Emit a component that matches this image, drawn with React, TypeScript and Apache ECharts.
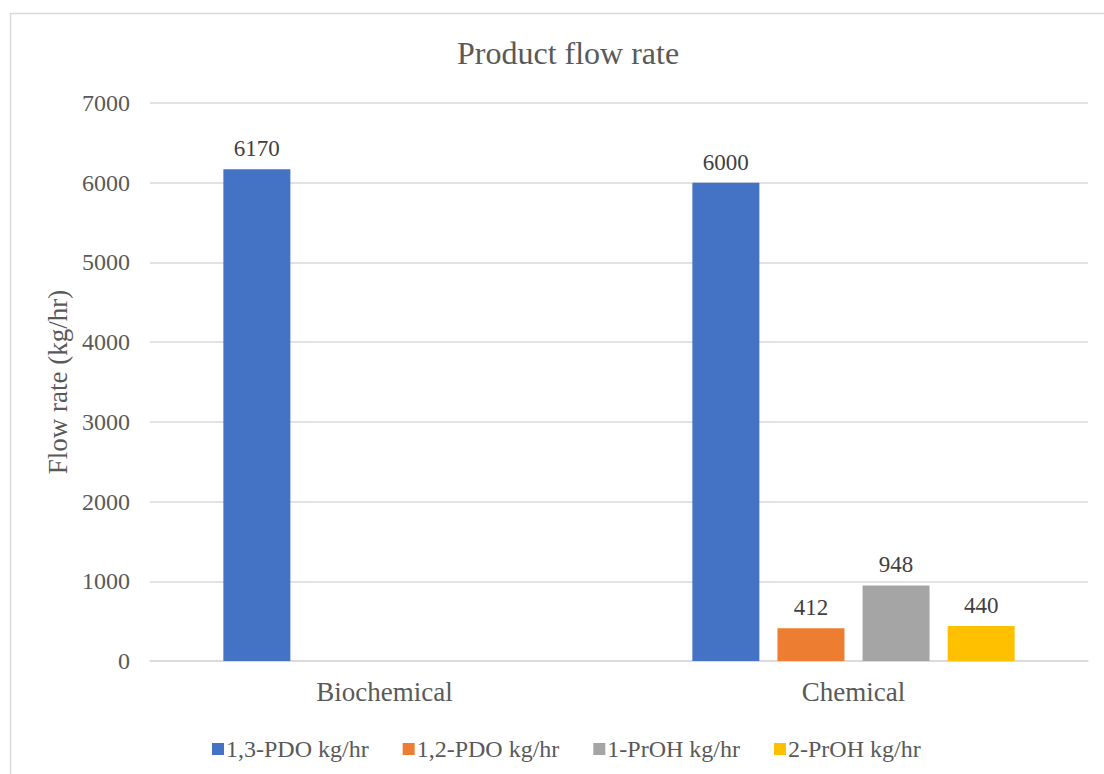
import React, { useEffect, useRef } from "react";
import * as echarts from "echarts";

const categories = ["Biochemical", "Chemical"];
const seriesNames = ["1,3-PDO kg/hr", "1,2-PDO kg/hr", "1-PrOH kg/hr", "2-PrOH kg/hr"];
const pdo13 = [6170, 6000];
const pdo12 = [null, 412];
const prOH1 = [null, 948];
const prOH2 = [null, 440];
const colors = ["#4472C4", "#ED7D31", "#A5A5A5", "#FFC000"];
const yTicks = { min: 0, max: 7000, interval: 1000 };

const FONT = "Liberation Serif";

export default function App() {
  const ref = useRef<HTMLDivElement>(null);
  useEffect(() => {
    if (!ref.current) return;
    const chart = echarts.init(ref.current, null, { renderer: "svg" });
    const data = [pdo13, pdo12, prOH1, prOH2];
    chart.setOption({
      animation: false,
      backgroundColor: "#ffffff",
      textStyle: { fontFamily: FONT },
      graphic: [
        {
          type: "rect",
          shape: { x: 10.5, y: 13.5, width: 1110, height: 800 },
          style: { fill: "none", stroke: "#d9d9d9", lineWidth: 1.5 },
          silent: true,
          z: -1,
        },
      ],
      title: {
        text: "Product flow rate",
        left: 452,
        top: 32,
        textStyle: { fontFamily: FONT, fontSize: 32, fontWeight: "normal", color: "#595959" },
      },
      legend: {
        top: 732,
        left: 207,
        itemWidth: 12,
        itemHeight: 12,
        itemGap: 34,
        icon: "rect",
        textStyle: { fontFamily: FONT, fontSize: 24, color: "#595959", padding: [0, 0, 0, -3] },
        data: seriesNames,
      },
      grid: { left: 150, right: 16, top: 103, bottom: 113, containLabel: false },
      xAxis: {
        type: "category",
        data: categories,
        axisLine: { lineStyle: { color: "#d9d9d9", width: 1.5 } },
        axisTick: { show: false },
        axisLabel: { fontFamily: FONT, fontSize: 27, color: "#595959", margin: 17 },
      },
      yAxis: {
        type: "value",
        min: yTicks.min,
        max: yTicks.max,
        interval: yTicks.interval,
        name: "Flow rate (kg/hr)",
        nameLocation: "middle",
        nameGap: 77,
        nameTextStyle: { fontFamily: FONT, fontSize: 27, color: "#595959" },
        axisLine: { show: false },
        axisTick: { show: false },
        axisLabel: {
          fontFamily: FONT,
          fontSize: 24,
          color: "#595959",
          margin: 20,
          formatter: (v: number) => String(v),
        },
        splitLine: { lineStyle: { color: "#d9d9d9", width: 1.5 } },
      },
      series: seriesNames.map((name, i) => ({
        name,
        type: "bar",
        data: data[i],
        barWidth: 67,
        barGap: "27%",
        itemStyle: { color: colors[i] },
        label: {
          show: true,
          position: "top",
          distance: 9,
          fontFamily: FONT,
          fontSize: 23,
          color: "#404040",
        },
      })),
    });
    return () => chart.dispose();
  }, []);
  return (
    <div
      ref={ref}
      style={{ position: "fixed", left: 0, top: 0, width: 1104, height: 774 }}
    />
  );
}
